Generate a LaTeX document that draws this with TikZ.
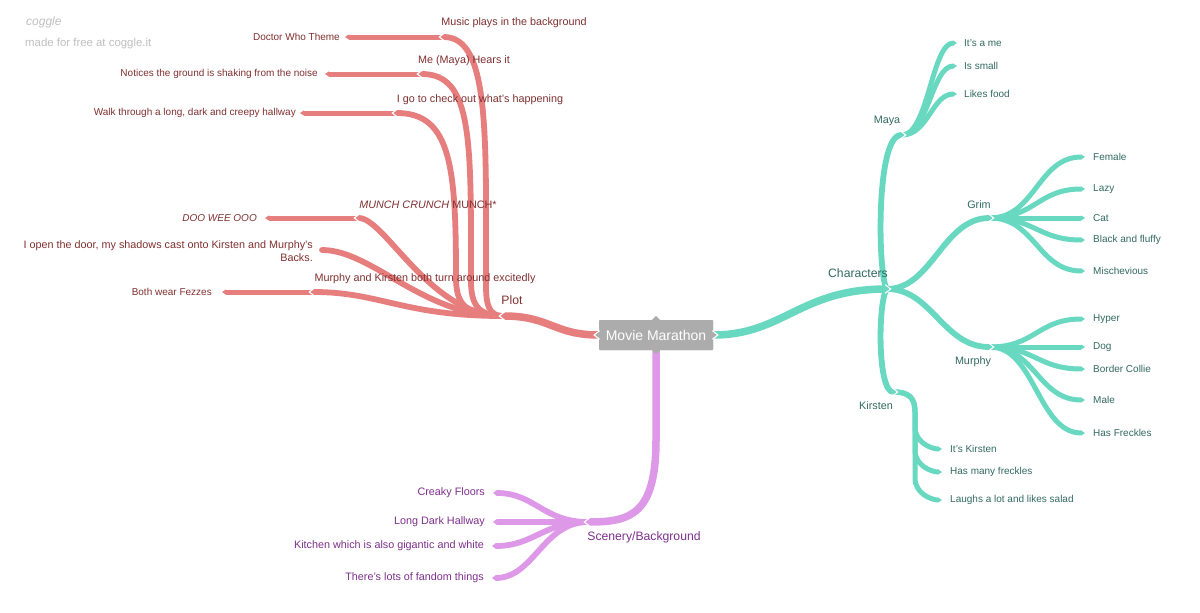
\documentclass[tikz,border=0pt]{standalone}
\usepackage{fontspec}
\setmainfont{Liberation Sans}
\usetikzlibrary{arrows.meta,calc}
\definecolor{plotc}{RGB}{231,126,126}
\definecolor{plott}{RGB}{128,48,48}
\definecolor{charc}{RGB}{104,216,192}
\definecolor{chart}{RGB}{50,106,96}
\definecolor{scenc}{RGB}{222,152,232}
\definecolor{scent}{RGB}{126,48,140}
\definecolor{boxc}{RGB}{172,172,172}
\definecolor{wmc}{RGB}{192,192,192}
\begin{document}
\begin{tikzpicture}[x=1pt,y=-1pt,
  tipped/.style={line cap=butt,-{Triangle[length=4pt,width=0pt 1]}},
  l1/.style={tipped,line width=7.5pt},
  l2/.style={tipped,line width=5.8pt},
  l3/.style={tipped,line width=5pt},
  lvA/.style={inner sep=0pt,font=\fontsize{12.2}{14}\selectfont},
  lvB/.style={inner sep=0pt,font=\fontsize{10.8}{13}\selectfont},
  lvC/.style={inner sep=0pt,font=\fontsize{10}{12}\selectfont},
  notchL/.pic={\draw[white,line width=1.1pt,line join=miter] (4.8,-4.3) -- (-0.7,0) -- (4.8,4.3);},
  notchR/.pic={\draw[white,line width=1.1pt,line join=miter] (-4.8,-4.3) -- (0.7,0) -- (-4.8,4.3);},
  centerbox/.style={fill=boxc,text=white,minimum width=114pt,minimum height=30pt,inner sep=0pt,rounded corners=1pt,font=\fontsize{14}{16}\selectfont}
]
\fill[white] (0,0) rectangle (1200,613);
\useasboundingbox (0,0) rectangle (1200,613);

% watermark
\node[anchor=west,inner sep=0pt,text=wmc,font=\fontsize{12}{14}\selectfont\itshape] (wm1) at (26,22) {coggle};
\node[anchor=west,inner sep=0pt,text=wmc,font=\fontsize{11.4}{14}\selectfont] (wm2) at (25,44) {made for free at coggle.it};

% junction coordinates
\coordinate (plotJ) at (500,316);
\coordinate (charJ) at (890,289);
\coordinate (scenJ) at (585,522);
\coordinate (musicJ) at (440,37);
\coordinate (meJ) at (418,74);
\coordinate (igoJ) at (393,113);
\coordinate (munchJ) at (355,218);
\coordinate (doorE) at (322,250);
\coordinate (murkJ) at (310,292);
\coordinate (mayaJ) at (905,135);
\coordinate (grimJ) at (993,218);
\coordinate (murphyJ) at (993,347);
\coordinate (kirstenJ) at (897,392);
\coordinate (scenV) at (656,440);
\coordinate (musicV) at (486,285);
\coordinate (meV) at (471,281);
\coordinate (igoV) at (456,277);
\coordinate (kirV) at (915,412);

% center node (drawn later on top; placed now for anchors)
\path node[centerbox] (mm) at (656,335) {\phantom{Movie Marathon}};

% ---------- leaf texts ----------
\begin{scope}[every node/.style={lvC,text=plott,anchor=east}]
\node (dwt) at (340,37) {Doctor Who Theme};
\node (noti) at (318,74) {Notices the ground is shaking from the noise};
\node (walk) at (296,113) {Walk through a long, dark and creepy hallway};
\node[font=\fontsize{10}{12}\selectfont\itshape] (doo) at (257,218) {DOO WEE OOO};
\node (fez) at (212,292) {Both wear Fezzes};
\end{scope}
\begin{scope}[every node/.style={lvC,text=chart,anchor=west}]
\node (itsme) at (964,43) {It's a me};
\node (small) at (964,66) {Is small};
\node (food) at (964,94) {Likes food};
\node (female) at (1093,157) {Female};
\node (lazy) at (1093,189) {Lazy};
\node (cat) at (1093,218) {Cat};
\node (black) at (1093,240) {Black and fluffy};
\node (misch) at (1093,271) {Mischevious};
\node (hyper) at (1093,319) {Hyper};
\node (dog) at (1093,347) {Dog};
\node (border) at (1093,369) {Border Collie};
\node (male) at (1093,400) {Male};
\node (hasfr) at (1093,433) {Has Freckles};
\node (itsk) at (950,449) {It's Kirsten};
\node (manyfr) at (950,472) {Has many freckles};
\node (laughs) at (950,500) {Laughs a lot and likes salad};
\end{scope}
\begin{scope}[every node/.style={lvB,text=scent,anchor=east}]
\node (creaky) at (485,493) {Creaky Floors};
\node (hall) at (485,522) {Long Dark Hallway};
\node (kitchen) at (484,546) {Kitchen which is also gigantic and white};
\node (fandom) at (484,578) {There's lots of fandom things};
\end{scope}

% ---------- level 3 connectors ----------
\begin{scope}[plotc]
\draw[l3,shorten >=5pt] ([shift={(3,0)}]musicJ) -- (dwt.east);
\draw[l3,shorten >=7pt] ([shift={(3,0)}]meJ) -- (noti.east);
\draw[l3,shorten >=4pt] ([shift={(3,0)}]igoJ) -- (walk.east);
\draw[l3,shorten >=8pt] ([shift={(3,0)}]munchJ) -- (doo.east);
\draw[l3,shorten >=10pt] ([shift={(3,0)}]murkJ) -- (fez.east);
\end{scope}
\begin{scope}[charc]
\foreach \n in {itsme,small,food}
  \draw[l3,shorten >=7pt] ([shift={(-3,0)}]mayaJ) .. controls +(26,0) and +(-32,0) .. (\n.west);
\foreach \n in {female,lazy,cat,black,misch}
  \draw[l3,shorten >=8pt] ([shift={(-3,0)}]grimJ) .. controls +(45,0) and +(-55,0) .. (\n.west);
\foreach \n in {hyper,dog,border,male,hasfr}
  \draw[l3,shorten >=8pt] ([shift={(-3,0)}]murphyJ) .. controls +(45,0) and +(-55,0) .. (\n.west);
\foreach \n in {itsk,manyfr,laughs}
  \draw[l3,shorten >=8pt] ([shift={(-3,0)}]kirstenJ) .. controls +(15,0) and +(0,-14) .. (kirV)
     -- ([shift={(0,-22)}]kirV |- \n.west) .. controls +(0,16) and +(-18,0) .. (\n.west);
\end{scope}
\begin{scope}[scenc]
\foreach \n in {creaky,hall,kitchen,fandom}
  \draw[l2,shorten >=8pt] ([shift={(3,0)}]scenJ) .. controls +(-45,0) and +(50,0) .. (\n.east);
\end{scope}

% ---------- level 2 connectors ----------
\begin{scope}[plotc]
\draw[l2] ([shift={(3,0)}]plotJ) .. controls +(-14,0) and +(0,20) .. (musicV) .. controls +(0,-150) and +(50,0) .. (musicJ);
\draw[l2] ([shift={(3,0)}]plotJ) .. controls +(-26,0) and +(0,22) .. (meV) .. controls +(0,-140) and +(55,0) .. (meJ);
\draw[l2] ([shift={(3,0)}]plotJ) .. controls +(-40,0) and +(0,25) .. (igoV) .. controls +(0,-110) and +(58,0) .. (igoJ);
\draw[l2] ([shift={(3,0)}]plotJ) .. controls +(-73,0) and +(30,0) .. (munchJ);
\draw[line width=5.8pt,line cap=round] ([shift={(3,0)}]plotJ) .. controls +(-80,0) and +(50,0) .. (doorE);
\draw[l2] ([shift={(3,0)}]plotJ) .. controls +(-100,0) and +(70,0) .. (murkJ);
\end{scope}
\begin{scope}[charc]
\draw[l2] ([shift={(-3,0)}]charJ) .. controls +(-9,-9) and +(-30,0) .. (mayaJ);
\draw[l2] ([shift={(-3,0)}]charJ) .. controls +(45,0) and +(-50,0) .. (grimJ);
\draw[l2] ([shift={(-3,0)}]charJ) .. controls +(45,0) and +(-50,0) .. (murphyJ);
\draw[l2] ([shift={(-3,0)}]charJ) .. controls +(-9,10) and +(-20,0) .. (kirstenJ);
\end{scope}

% ---------- level 1 connectors ----------
\draw[l1,plotc] (mm.west) .. controls +(-45,0) and +(50,0) .. (plotJ);
\draw[l1,charc] (mm.east) .. controls +(70,0) and +(-90,0) .. (charJ);
\draw[l1,scenc] (mm.south) -- (scenV) .. controls +(0,75) and +(45,0) .. (scenJ);

% ---------- notches ----------
\foreach \p in {plotJ,musicJ,meJ,igoJ,munchJ,murkJ,scenJ} \pic at (\p) {notchL};
\foreach \p in {charJ,mayaJ,grimJ,murphyJ,kirstenJ} \pic at (\p) {notchR};

% ---------- center node ----------
\node[centerbox] (mmc) at (mm.center) {Movie Marathon};
\fill[boxc] ([shift={(0,-4)}]mm.west) -- ([shift={(-4,0)}]mm.west) -- ([shift={(0,4)}]mm.west) -- cycle;
\fill[boxc] ([shift={(0,-4)}]mm.east) -- ([shift={(4,0)}]mm.east) -- ([shift={(0,4)}]mm.east) -- cycle;
\fill[boxc] ([shift={(-4,0)}]mm.north) -- ([shift={(0,-4)}]mm.north) -- ([shift={(4,0)}]mm.north) -- cycle;
\fill[boxc] ([shift={(-4,0)}]mm.south) -- ([shift={(0,4)}]mm.south) -- ([shift={(4,0)}]mm.south) -- cycle;
\pic at ([shift={(-4,0)}]mm.west) {notchL};
\pic at ([shift={(4,0)}]mm.east) {notchR};

% ---------- branch labels ----------
\node[lvA,text=plott] (plotL) at (512,300) {Plot};
\node[lvA,text=chart] (charL) at (858,273) {Characters};
\node[lvA,text=scent] (scenL) at (644,537) {Scenery/Background};
\begin{scope}[every node/.style={lvB,text=plott}]
\node (music) at (514,23) {Music plays in the background};
\node (me) at (464,61) {Me (Maya) Hears it};
\node (igo) at (480,100) {I go to check out what's happening};
\node (munch) at (428,205) {\itshape MUNCH CRUNCH\upshape\ MUNCH*};
\node[anchor=east,align=right] (door) at (313,251) {I open the door, my shadows cast onto Kirsten and Murphy's\\Backs.};
\node (murk) at (425,279) {Murphy and Kirsten both turn around excitedly};
\end{scope}
\begin{scope}[every node/.style={lvB,text=chart}]
\node (maya) at (887,121) {Maya};
\node (grim) at (979,205) {Grim};
\node (murphy) at (973,362) {Murphy};
\node (kirsten) at (876,406) {Kirsten};
\end{scope}
\end{tikzpicture}
\end{document}
